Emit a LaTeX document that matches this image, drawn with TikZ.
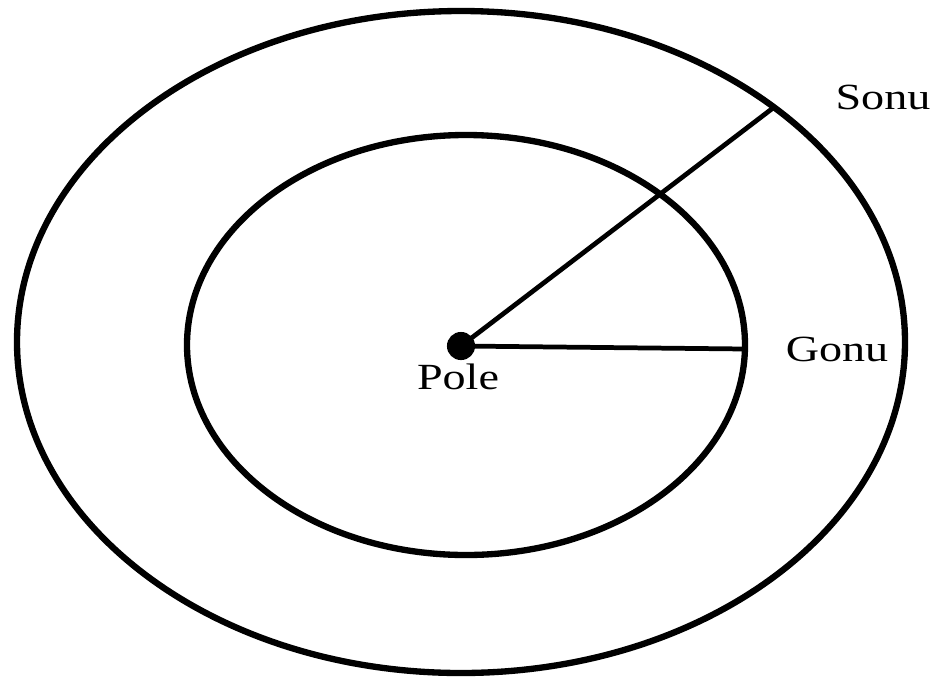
\documentclass[tikz,border=0pt]{standalone}
\usepackage{fontspec}
\setmainfont{Liberation Serif}
\tikzset{polar/.style={x=0.02cm,y=-0.02cm}}
\tikzset{ring/.style={line width=3.6pt},
         ray/.style={line width=2.7pt},
         lbl/.style={font=\fontsize{21}{24}\selectfont,inner sep=0pt,xscale=1.25,transform shape}}

\begin{document}
\begin{tikzpicture}[polar]
    \useasboundingbox (0,0) rectangle (940,684);
    \draw[ring] (461,342) ellipse [x radius=444, y radius=331];   % outer
    \draw[ring] (466,345) ellipse [x radius=279, y radius=210];   % inner
    \node[circle,fill,inner sep=0pt,minimum size=16pt] (pole) at (461,346) {};
    \coordinate (gonuend) at (745,349);
    \coordinate (sonuend) at (773,108);
    \draw[ray] (pole.center) -- (gonuend);
    \draw[ray] (pole.center) -- (sonuend);
    \node[lbl] (polelbl) at (458,377) {Pole};
    \node[lbl] (gonu) at (837,349) {Gonu};
    \node[lbl] (sonu) at (883,97) {Sonu};
  \end{tikzpicture}
\end{document}
